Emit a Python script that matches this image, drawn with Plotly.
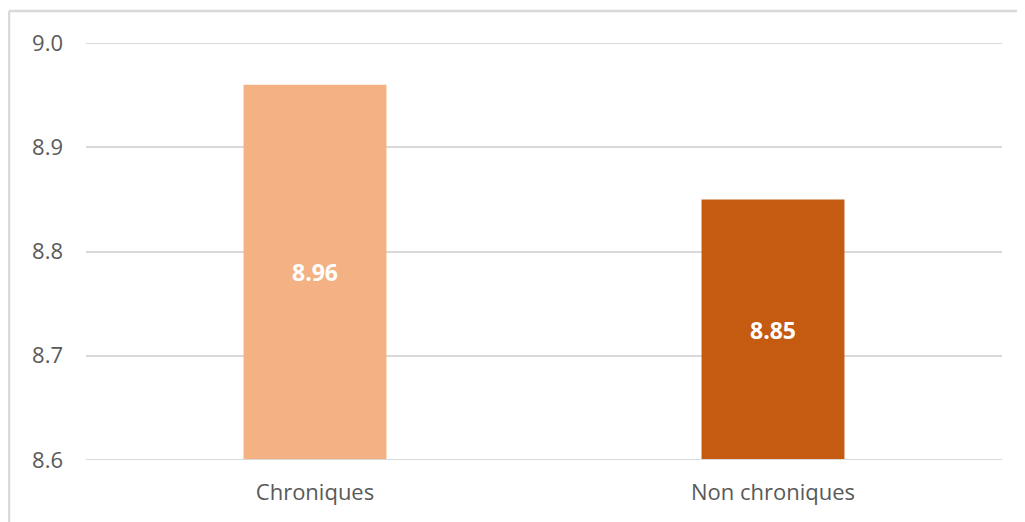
import plotly.graph_objects as go

categories = ["Chroniques", "Non chroniques"]
values = [8.96, 8.85]
colors = ["#F4B183", "#C55A11"]
y_ticks = [8.6, 8.7, 8.8, 8.9, 9.0]
y_base = 8.6

# page body has an 8px margin; compensate
OFF = 8
W, H = 1025 - OFF, 522 - OFF
L, T = 86 - OFF, 43 - OFF
plot_right, plot_bottom = 1002 - OFF, 460 - OFF
R, B = W - plot_right, H - plot_bottom
pw, ph = W - L - R, H - T - B

fig = go.Figure(go.Bar(
    x=categories, y=[v - y_base for v in values], base=y_base,
    marker_color=colors, marker_line_width=0,
    text=[f"{v:.2f}" for v in values], textposition="inside",
    insidetextanchor="middle",
    textfont=dict(color="white", size=23, family="Open Sans", weight="bold"),
))

bx = (9 - OFF - L) / pw
ty = 1 + (T - (11 - OFF)) / ph
fig.update_layout(
    width=W, height=H, margin=dict(l=L, r=R, t=T, b=B),
    plot_bgcolor="white", paper_bgcolor="white",
    bargap=0.688, showlegend=False,
    font=dict(family="Open Sans", color="#595959", size=22),
    xaxis=dict(showgrid=False, showline=False, ticks="", ticklabelstandoff=17,
               tickfont=dict(size=22, color="#595959")),
    yaxis=dict(range=[8.6, 9.0], tickvals=y_ticks, ticktext=[f"{t:.1f}" for t in y_ticks],
               showgrid=True, gridcolor="#D9D9D9", gridwidth=2, zeroline=False,
               showline=False, ticks="", ticklabelstandoff=22,
               tickfont=dict(size=22, color="#595959")),
    shapes=[
        dict(type="line", xref="paper", yref="paper", x0=bx, x1=bx, y0=-0.5, y1=ty,
             line=dict(color="#D9D9D9", width=2.5)),
        dict(type="line", xref="paper", yref="paper", x0=bx, x1=1.2, y0=ty, y1=ty,
             line=dict(color="#D9D9D9", width=2.5)),
        dict(type="line", xref="paper", yref="y", x0=0, x1=1, y0=8.6, y1=8.6,
             line=dict(color="#D9D9D9", width=2), layer="above"),
        dict(type="line", xref="paper", yref="y", x0=0, x1=1, y0=9.0, y1=9.0,
             line=dict(color="#D9D9D9", width=2), layer="below"),
    ],
)
fig.write_html("out.html")
